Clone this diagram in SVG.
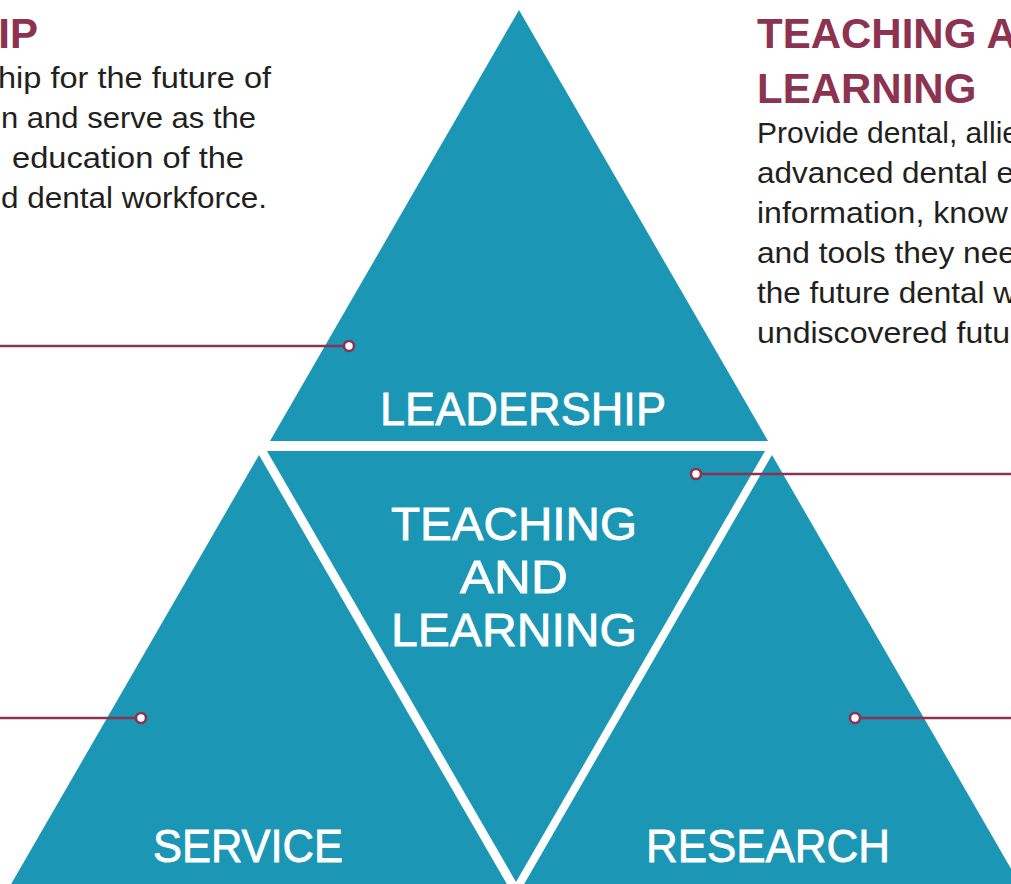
<svg xmlns="http://www.w3.org/2000/svg" width="1011" height="884" viewBox="0 0 1011 884">
<style>
.tri{fill:#1b96b5}
.lbl{fill:#ffffff;stroke:#ffffff;stroke-width:0.8px;font-family:"Liberation Sans",Arial,sans-serif;font-size:47px;text-anchor:middle}
.head{fill:#8b3350;font-family:"Liberation Sans",Arial,sans-serif;font-size:42px;font-weight:bold}
.body{fill:#231f20;font-family:"Liberation Sans",Arial,sans-serif;font-size:29.5px}
.conn{stroke:#8b3350;stroke-width:2.6;fill:none}
.dot{fill:#ffffff;stroke:#8b3350;stroke-width:2.6}
</style>
<rect width="1011" height="884" fill="#ffffff"/>
<g id="text-leadership">
<text class="head" x="38" y="48" text-anchor="end">IP</text>
<text class="body" x="-2" y="88" textLength="273" lengthAdjust="spacingAndGlyphs">hip for the future of</text>
<text class="body" x="1" y="128" textLength="255" lengthAdjust="spacingAndGlyphs">n and serve as the</text>
<text class="body" x="12" y="168" textLength="232" lengthAdjust="spacingAndGlyphs">education of the</text>
<text class="body" x="1" y="208" textLength="266" lengthAdjust="spacingAndGlyphs">d dental workforce.</text>
</g>
<g id="text-teaching">
<text class="head" x="757" y="48">TEACHING A</text>
<text class="head" x="757" y="103">LEARNING</text>
<text class="body" x="757" y="143" textLength="262" lengthAdjust="spacingAndGlyphs">Provide dental, allie</text>
<text class="body" x="757" y="183" textLength="257" lengthAdjust="spacingAndGlyphs">advanced dental e</text>
<text class="body" x="757" y="223" textLength="251" lengthAdjust="spacingAndGlyphs">information, know</text>
<text class="body" x="757" y="263" textLength="259" lengthAdjust="spacingAndGlyphs">and tools they nee</text>
<text class="body" x="757" y="303" textLength="259" lengthAdjust="spacingAndGlyphs">the future dental w</text>
<text class="body" x="757" y="343" textLength="253" lengthAdjust="spacingAndGlyphs">undiscovered futu</text>
</g>
<g id="node-leadership">
<polygon class="tri" points="519,10 270,441 768,441"/>
<text class="lbl" x="523" y="425" textLength="286" lengthAdjust="spacingAndGlyphs">LEADERSHIP</text>
</g>
<g id="node-teaching">
<polygon class="tri" points="267,451 765,451 516,882"/>
<text class="lbl" x="514" y="540" textLength="246" lengthAdjust="spacingAndGlyphs">TEACHING</text>
<text class="lbl" x="514" y="593" textLength="108" lengthAdjust="spacingAndGlyphs">AND</text>
<text class="lbl" x="514" y="646" textLength="246" lengthAdjust="spacingAndGlyphs">LEARNING</text>
</g>
<g id="node-service">
<polygon class="tri" points="259,455 10,886 508,886"/>
<text class="lbl" x="248" y="862" textLength="190" lengthAdjust="spacingAndGlyphs">SERVICE</text>
</g>
<g id="node-research">
<polygon class="tri" points="772,455 523,886 1021,886"/>
<text class="lbl" x="768" y="862" textLength="244" lengthAdjust="spacingAndGlyphs">RESEARCH</text>
</g>
<g id="connectors">
<line class="conn" x1="0" y1="346" x2="344" y2="346"/>
<circle class="dot" cx="349" cy="346" r="5"/>
<line class="conn" x1="701" y1="474" x2="1011" y2="474"/>
<circle class="dot" cx="696" cy="474" r="5"/>
<line class="conn" x1="0" y1="718" x2="136" y2="718"/>
<circle class="dot" cx="141" cy="718" r="5"/>
<line class="conn" x1="860" y1="718" x2="1011" y2="718"/>
<circle class="dot" cx="855" cy="718" r="5"/>
</g>
</svg>
